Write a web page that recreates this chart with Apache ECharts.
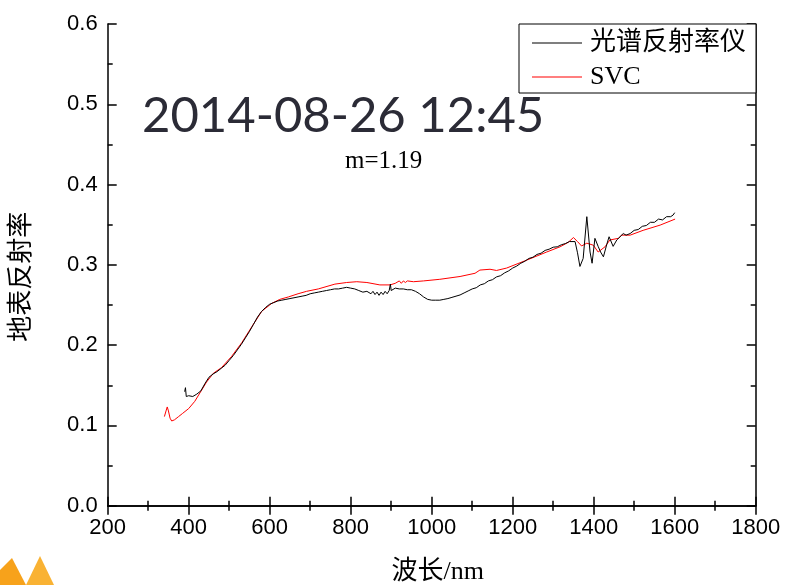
<!DOCTYPE html>
<html>
<head>
<meta charset="utf-8">
<script src="https://cdn.jsdelivr.net/npm/echarts@6/dist/echarts.min.js"></script>
<style>html,body{margin:0;padding:0;background:#fff;}#c{width:788px;height:585px;}</style>
</head>
<body>
<div id="c"></div>
<script>
// ---- data ----
const seriesNames = ['光谱反射率仪', 'SVC'];
const xTicks = [200, 400, 600, 800, 1000, 1200, 1400, 1600, 1800];
const yTicks = [0.0, 0.1, 0.2, 0.3, 0.4, 0.5, 0.6];

const instWave = [390,392,394,400,410,420,430,440,450,460,470,480,490,500,510,520,530,540,550,560,570,580,590,600,610,620,630,640,650,660,670,680,690,700,710,720,730,740,750,760,770,780,790,800,810,820,830,840,850,855,860,865,870,875,880,885,890,895,898,900,910,920,930,940,950,960,970,980,990,1000,1010,1020,1030,1040,1050,1060,1070,1080,1090,1100,1110,1120,1130,1140,1150,1160,1170,1180,1190,1200,1210,1220,1230,1240,1250,1260,1270,1280,1290,1300,1310,1320,1330,1340,1354,1360,1366,1374,1383,1391,1396,1403,1411,1417,1424,1432,1438,1448,1457,1465,1473,1480,1490,1500,1510,1520,1530,1540,1550,1560,1570,1580,1590,1596,1600];
const instRefl = [0.142,0.147,0.136,0.137,0.136,0.139,0.143,0.152,0.160,0.164,0.167,0.171,0.175,0.181,0.187,0.194,0.201,0.209,0.217,0.226,0.235,0.242,0.247,0.251,0.253,0.255,0.256,0.257,0.258,0.259,0.260,0.261,0.262,0.264,0.265,0.266,0.267,0.268,0.269,0.270,0.270,0.271,0.272,0.271,0.270,0.268,0.266,0.267,0.264,0.267,0.263,0.266,0.262,0.266,0.263,0.267,0.264,0.268,0.276,0.268,0.271,0.270,0.270,0.269,0.269,0.267,0.264,0.260,0.257,0.256,0.256,0.256,0.257,0.258,0.2595,0.261,0.2625,0.265,0.2675,0.270,0.2715,0.275,0.2765,0.280,0.2815,0.285,0.2865,0.290,0.2925,0.296,0.2985,0.302,0.3045,0.308,0.3095,0.313,0.3145,0.318,0.3195,0.322,0.3225,0.325,0.3265,0.329,0.329,0.315,0.298,0.308,0.360,0.316,0.302,0.333,0.323,0.316,0.310,0.325,0.335,0.323,0.331,0.335,0.339,0.337,0.339,0.343,0.344,0.348,0.349,0.353,0.353,0.357,0.356,0.360,0.360,0.362,0.365];

const svcWave = [340,344,347,350,354,358,365,375,385,400,415,432,444,461,481,506,531,556,580,605,625,646,670,691,720,761,790,815,840,872,897,910,920,925,930,935,940,955,980,1020,1070,1107,1119,1144,1160,1185,1235,1284,1317,1337,1350,1360,1370,1383,1399,1411,1428,1440,1461,1469,1490,1522,1564,1601];
const svcRefl = [0.111,0.118,0.123,0.118,0.109,0.1055,0.107,0.111,0.115,0.121,0.130,0.144,0.154,0.165,0.172,0.186,0.203,0.223,0.242,0.252,0.257,0.260,0.264,0.267,0.270,0.276,0.278,0.279,0.278,0.275,0.275,0.277,0.280,0.277,0.280,0.278,0.280,0.279,0.280,0.282,0.2855,0.2895,0.2935,0.2945,0.293,0.296,0.306,0.316,0.3225,0.328,0.334,0.329,0.3235,0.327,0.3245,0.316,0.3225,0.331,0.333,0.337,0.337,0.343,0.3495,0.357];

const titleText = '2014-08-26 12:45';
const noteText = 'm=1.19';
const xName = '波长/nm';
const yName = '地表反射率';

// ---- build ----
const instData = instWave.map((w, i) => [w, instRefl[i]]);
const svcData = svcWave.map((w, i) => [w, svcRefl[i]]);

const axisLineStyle = { color: '#000', width: 1.5 };
const labelFont = { color: '#000', fontFamily: 'Liberation Sans, Arial, sans-serif', fontSize: 22 };
const serifCJK = 'Liberation Serif, "Noto Sans CJK SC", serif';
const tick = { show: true, inside: true, length: 9, lineStyle: { color: '#000', width: 1.5 } };
const minor = { show: true, splitNumber: 2, length: 5, lineStyle: { color: '#000', width: 1.5 } };

const chart = echarts.init(document.getElementById('c'), null, { renderer: 'canvas' });
chart.setOption({
  backgroundColor: '#fff',
  animation: false,
  grid: { left: 107.7, right: 32.3, top: 24, bottom: 79.3, containLabel: false, outerBoundsMode: 'none' },
  legend: {
    orient: 'vertical',
    left: 519, top: 24,
    data: seriesNames,
    icon: 'rect',
    itemWidth: 50, itemHeight: 1, itemGap: 8,
    padding: [6, 10, 3, 13],
    borderColor: '#000', borderWidth: 1,
    backgroundColor: '#fff',
    textStyle: { fontFamily: serifCJK, fontSize: 26, color: '#000', lineHeight: 26, padding: [0, 0, 0, 3] }
  },
  xAxis: [{
    type: 'value', min: 200, max: 1800, interval: 200,
    name: xName, nameLocation: 'middle', nameGap: 53,
    nameTextStyle: { fontFamily: serifCJK, fontSize: 26, color: '#000', padding: [0, 0, 0, 12] },
    axisLine: { show: true, lineStyle: axisLineStyle },
    axisTick: tick, minorTick: minor,
    axisLabel: Object.assign({ margin: 11, formatter: v => xTicks.includes(v) ? String(v) : '' }, labelFont),
    splitLine: { show: false }
  }, {
    type: 'value', position: 'top', min: 200, max: 1800, interval: 200,
    axisLine: { show: true, lineStyle: axisLineStyle },
    axisTick: tick, minorTick: minor,
    axisLabel: { show: false }, splitLine: { show: false }
  }],
  yAxis: [{
    type: 'value', min: 0, max: 0.6, interval: 0.1,
    name: yName, nameLocation: 'middle', nameGap: 73, nameRotate: 90,
    nameTextStyle: { fontFamily: serifCJK, fontSize: 26, color: '#000', padding: [0, 24, 0, 0] },
    axisLine: { show: true, lineStyle: axisLineStyle },
    axisTick: tick, minorTick: minor,
    axisLabel: Object.assign({ margin: 10, formatter: v => v.toFixed(1) }, labelFont),
    splitLine: { show: false }
  }, {
    type: 'value', position: 'right', min: 0, max: 0.6, interval: 0.1,
    axisLine: { show: true, lineStyle: axisLineStyle },
    axisTick: tick, minorTick: minor,
    axisLabel: { show: false }, splitLine: { show: false }
  }],
  series: [{
    name: seriesNames[0], type: 'line', data: instData, symbol: 'none',
    lineStyle: { color: '#000', width: 1 }, itemStyle: { color: '#000' }, z: 3
  }, {
    name: seriesNames[1], type: 'line', data: svcData, symbol: 'none',
    lineStyle: { color: '#ff0000', width: 1 }, itemStyle: { color: '#ff0000' }, z: 2
  }],
  graphic: [{
    type: 'text', left: 142, top: 92, z: 10,
    style: { text: titleText, fill: '#2b2b36', font: '400 49px Lato, "Open Sans", sans-serif' }
  }, {
    type: 'text', left: 345, top: 149, z: 10,
    style: { text: noteText, fill: '#000', font: '25px "Liberation Serif", "Times New Roman", serif' }
  }, {
    type: 'polygon', z: 10,
    shape: { points: [[0, 585], [0, 570], [12, 558], [26, 585]] },
    style: { fill: '#f7a21b' }
  }, {
    type: 'polygon', z: 10,
    shape: { points: [[26, 585], [40, 556], [54, 585]] },
    style: { fill: '#f9b233' }
  }]
});
</script>
</body>
</html>
